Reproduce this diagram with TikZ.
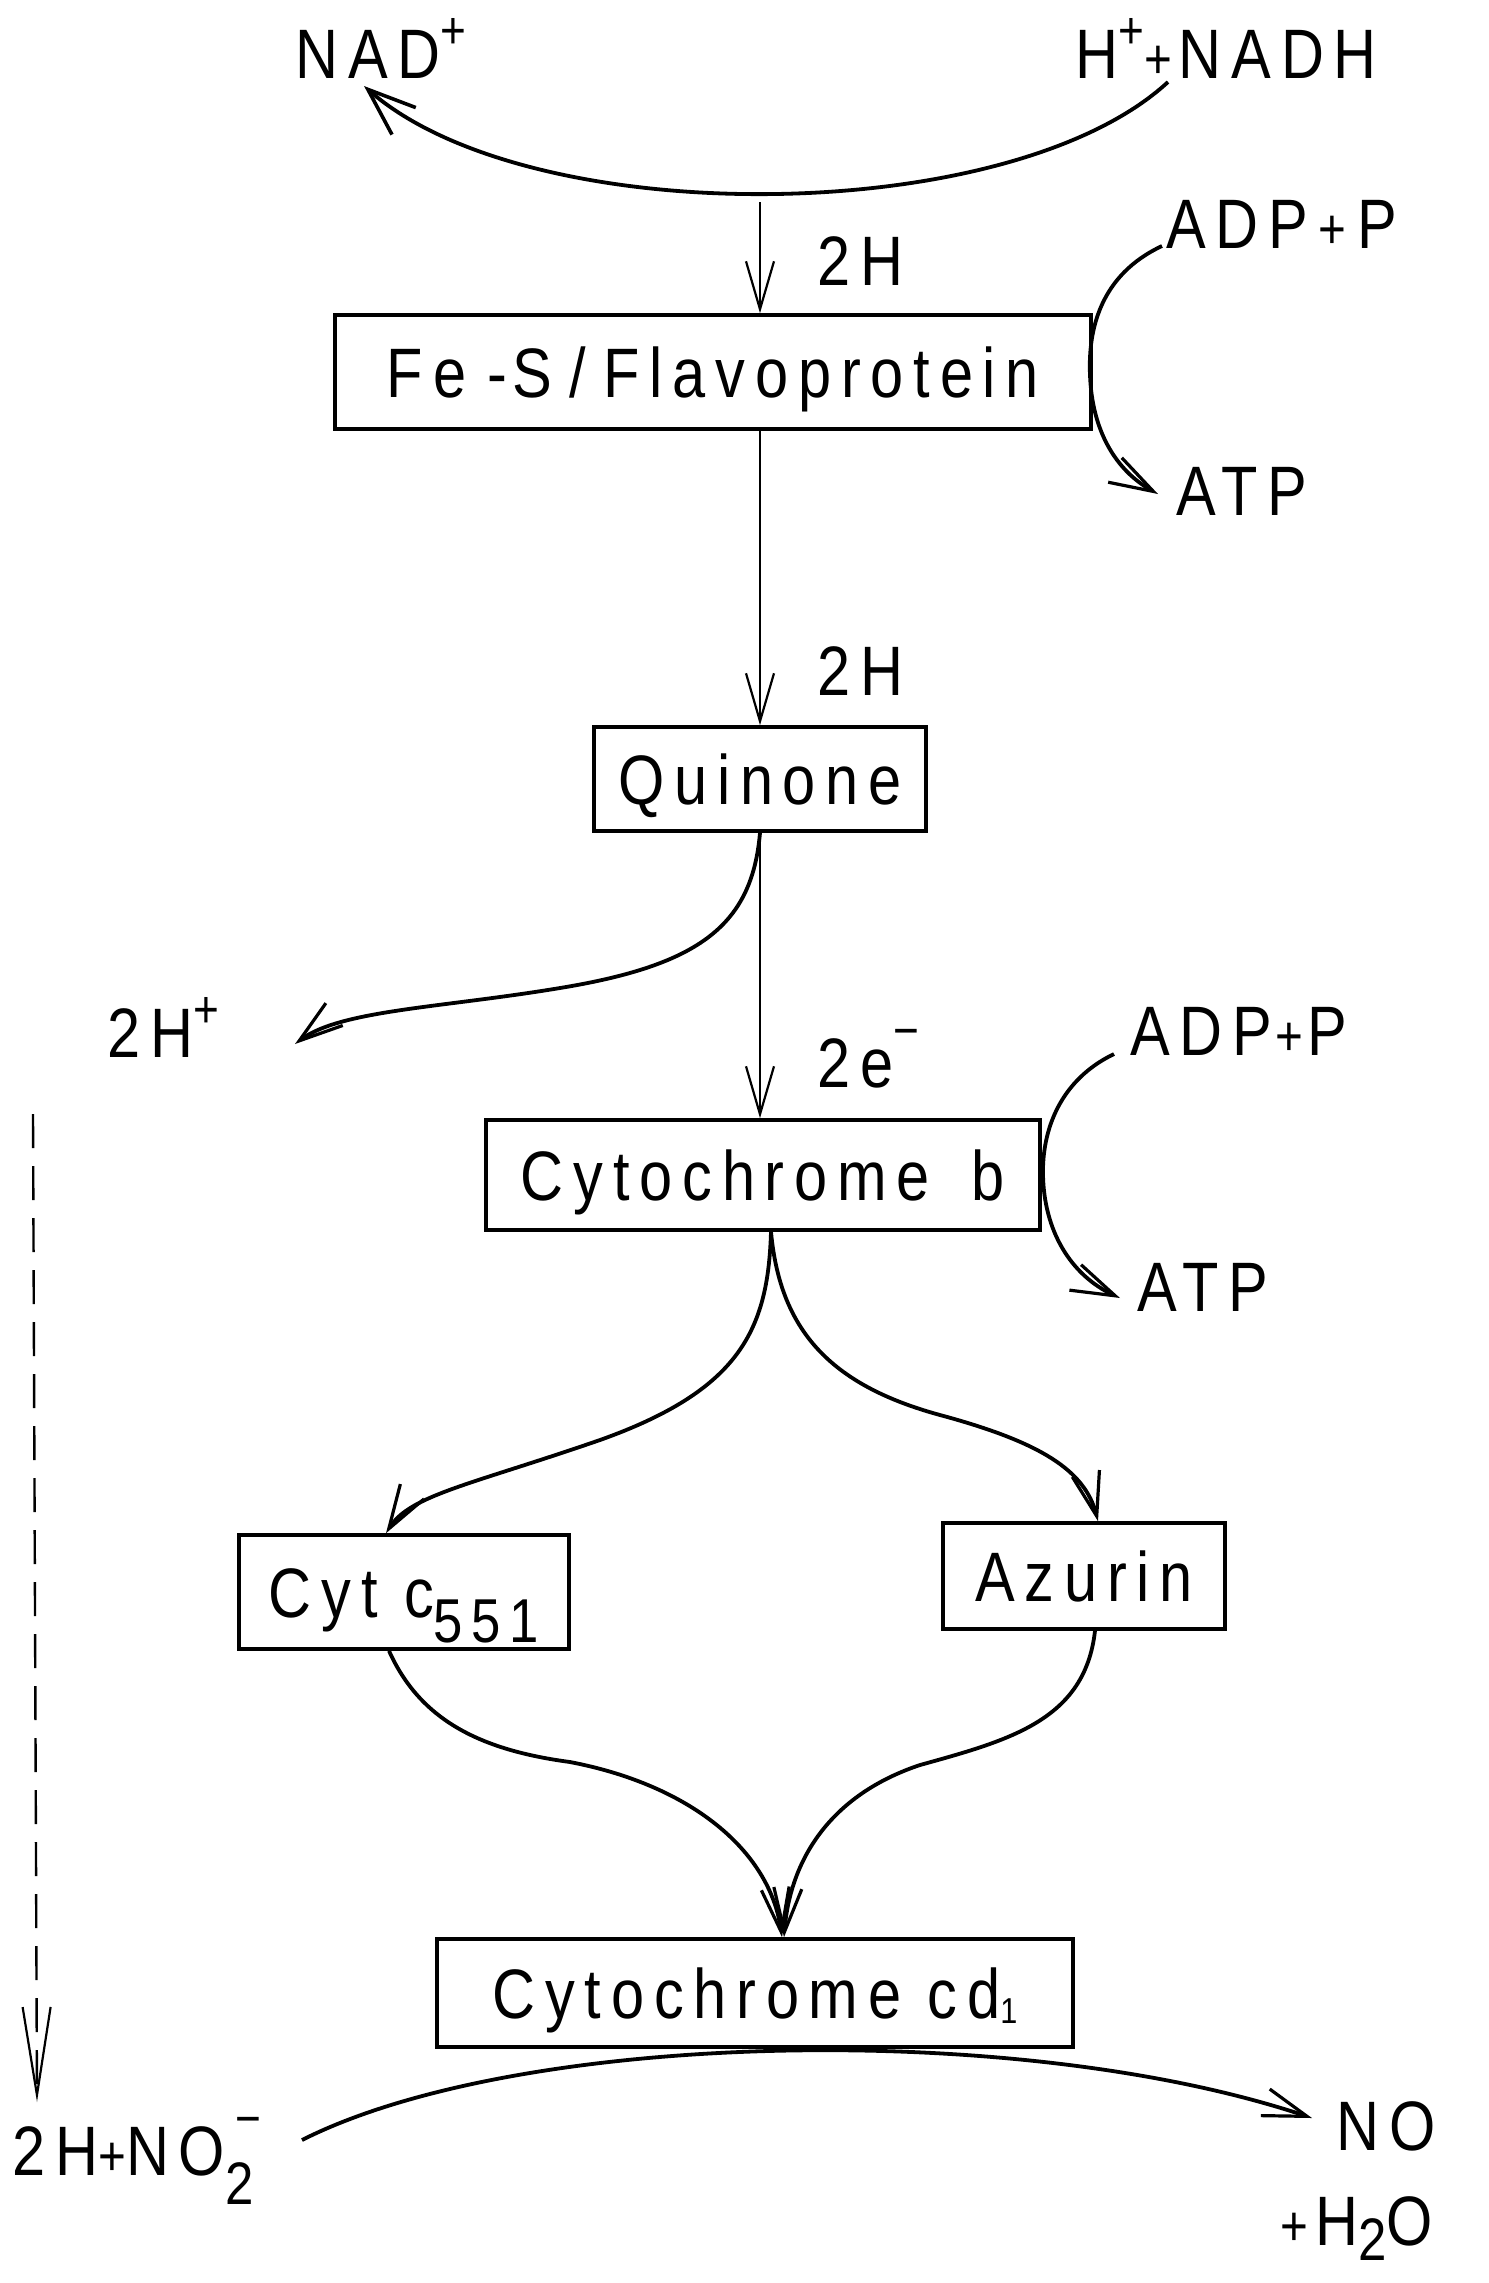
\documentclass[tikz,border=0pt]{standalone}
\usepackage{fontspec}
\setmainfont{Liberation Sans}[FakeStretch=0.85,LetterSpace=14]
\usetikzlibrary{arrows.meta,calc}
\newcommand\upx[1]{\raisebox{0.42em}{\fontsize{26}{26}\selectfont #1}}
\newcommand\dnx[1]{\raisebox{-0.36em}{\fontsize{31}{31}\selectfont #1}}
\newcommand\smallplus{{\fontsize{28}{28}\selectfont +}}
\newcommand\subsupx[2]{\makebox[0pt][l]{\hspace{0.15em}\raisebox{0.55em}{\fontsize{26}{26}\selectfont #2}}\raisebox{-0.42em}{\fontsize{30}{30}\selectfont #1}}
\begin{document}
\begin{tikzpicture}[x=0.5pt,y=-0.5pt,
  every node/.style={font=\fontsize{35}{40}\selectfont},
  lbl/.style={anchor=base west, inner sep=0pt},
  box/.style={draw, line width=1.8pt, inner sep=0pt, text height=25pt, text depth=0pt},
  vline/.style={line width=1.1pt},
  curve/.style={line width=1.9pt},
  barbv/.style={-{Straight Barb[length=24pt,width=14pt,line width=1.1pt]}},
  barbc/.style={-{Straight Barb[length=22pt,width=14pt,line width=1.6pt]}},
  barbn/.style={-{Straight Barb[length=24pt,width=18pt,line width=1.8pt]}},
  barbd/.style={-{Straight Barb[length=44pt,width=14pt,line width=1.1pt]}},
  dashline/.style={line width=1.2pt, dash pattern=on 17pt off 9pt}]
\fill[white] (0,0) rectangle (1489,2283);
\useasboundingbox (0,0) rectangle (1489,2283);

% text labels
\node[lbl] (nad) at (295,78) {NAD\upx{+}};
\node[lbl] (nadh) at (1075,78) {H\upx{+}\smallplus\hspace{0.1em}NADH};
\node[lbl] (l2ha) at (817,285) {2H};
\node[lbl] (adpa) at (1166,248) {ADP\hspace{0.15em}\smallplus\hspace{0.15em}P};
\node[lbl] (atpa) at (1176,515) {ATP};
\node[lbl] (l2hb) at (817,695) {2H};
\node[lbl] (h2p) at (107,1057) {2H\upx{+}};
\node[lbl] (l2e) at (817,1087) {2e\raisebox{0.55em}{\fontsize{26}{26}\selectfont −}};
\node[lbl] (adpb) at (1130,1055) {ADP\hspace{0.05em}\smallplus\hspace{0.05em}P};
\node[lbl] (atpb) at (1137,1311) {ATP};
\node[lbl] (no2) at (12,2175) {2H\smallplus NO\subsupx{2}{−}};
\node[lbl] (no) at (1336,2150) {NO};
\node[lbl] (h2o) at (1280,2245) {\smallplus\hspace{0.1em}H\raisebox{-0.22em}{\fontsize{30}{30}\selectfont 2}O};

% boxes
\node[box, minimum width=378pt, minimum height=57pt] (fes) at (713,372) {Fe\kern0.3em-\kern0.08em S\kern0.25em/\kern0.25em Flavoprotein};
\node[box, minimum width=166pt, minimum height=52pt] (quin) at (760,779) {Quinone};
\node[box, minimum width=277pt, minimum height=55pt] (cytb) at (763,1175) {Cytochrome\kern0.6em b};
\node[box, minimum width=165pt, minimum height=57pt] (c551) at (404,1592) {Cyt c\dnx{551}};
\node[box, minimum width=141pt, minimum height=53pt] (azu) at (1084,1576) {Azurin};
\node[box, minimum width=318pt, minimum height=54pt] (cd1) at (755,1993) {Cytochrome cd\raisebox{-0.08em}{\fontsize{18}{18}\selectfont 1}};

% coordinates
\coordinate (v1) at (760,202);
\coordinate (nitin) at (302,2140);
\coordinate (noout) at (1312,2118);
\coordinate (dtop) at (33,1114);
\coordinate (dbot) at (37,2102);

% top arc NADH -> NAD+
\draw[curve, barbn] ($(nadh.base west)+(93,4)$) .. controls (1010,228) and (530,232) .. ($(nad.base west)+(69,8)$);

% main vertical arrows
\draw[vline, barbv] (v1) -- (fes.north -| quin.north);
\draw[vline, barbv] (fes.south -| quin.north) -- (quin.north);
\draw[vline, barbv] (quin.south) -- (cytb.north -| quin.south);

% ADP -> ATP curves
\draw[curve, barbc] ($(adpa.base west)+(-4,-2)$) .. controls (1100,275) and (1088,330) .. (1090,375) .. controls (1092,430) and (1115,470) .. ($(atpa.base west)+(-18,-21)$);
\draw[curve, barbc] ($(adpb.base west)+(-16,-1)$) .. controls (1060,1080) and (1042,1130) .. (1043,1175) .. controls (1044,1230) and (1070,1275) .. ($(atpb.base west)+(-17,-13)$);

% quinone -> 2H+
\draw[curve, barbc] (quin.south) .. controls (752,925) and (700,965) .. (560,988) .. controls (440,1008) and (340,1010) .. ($(h2p.base west)+(188,-13)$);

% branches from cytochrome b
\draw[curve, barbc] ($(cytb.south)+(8,0)$) .. controls (768,1330) and (740,1390) .. (600,1440) .. controls (470,1485) and (410,1495) .. ($(c551.north)+(-18,0)$);
\draw[curve, barbc] ($(cytb.south)+(8,0)$) .. controls (780,1330) and (830,1385) .. (940,1415) .. controls (1040,1442) and (1085,1470) .. ($(azu.north)+(14,0)$);

% converging to cd1
\draw[curve, barbc] ($(c551.south)+(-15,0)$) .. controls (420,1720) and (480,1750) .. (570,1762) .. controls (690,1785) and (770,1850) .. ($(cd1.north)+(27,0)$);
\draw[curve, barbc] ($(azu.south)+(11,0)$) .. controls (1085,1720) and (1010,1740) .. (920,1765) .. controls (830,1795) and (790,1860) .. ($(cd1.north)+(29,0)$);

% bottom arc
\draw[curve, barbc] (nitin) .. controls (520,2030) and (1020,2020) .. (noout);

% dashed arrow
\draw[dashline, barbd] (dtop) -- (dbot);
\end{tikzpicture}
\end{document}
